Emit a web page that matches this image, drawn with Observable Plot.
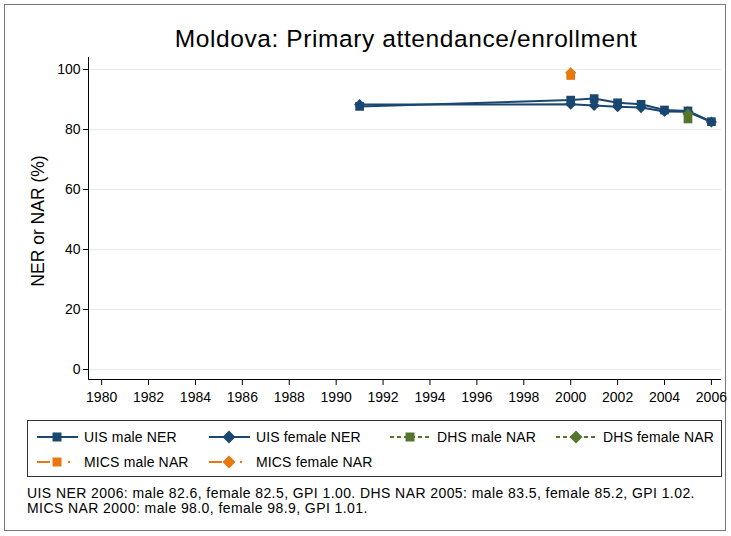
<!DOCTYPE html>
<html>
<head>
<meta charset="utf-8">
<script src="https://cdn.jsdelivr.net/npm/d3@7"></script>
<script src="https://cdn.jsdelivr.net/npm/@observablehq/plot@0.6"></script>
<style>
  html, body { margin: 0; padding: 0; background: #fff; }
  body { font-family: "Liberation Sans", Arial, sans-serif; }
  #wrap { position: relative; width: 731px; height: 536px; overflow: hidden; background: #fff; }
  #border { position: absolute; left: 4px; top: 4px; width: 722px; height: 527px; border: 1px solid #777; box-sizing: border-box; }
  #title { position: absolute; left: 88px; width: 636px; top: 25px; text-align: center; font-size: 24.5px; letter-spacing: 0.6px; color: #000; white-space: nowrap; }
  #chart { position: absolute; left: 0; top: 0; }
  #ylab { position: absolute; left: 38px; top: 221px; transform: translate(-50%, -50%) rotate(-90deg); font-size: 17.5px; white-space: nowrap; }
  #legend { position: absolute; left: 27px; top: 420px; width: 695px; height: 57px; border: 1px solid #333; box-sizing: border-box; }
  .item { position: absolute; font-size: 14px; letter-spacing: 0.15px; display: flex; align-items: center; white-space: nowrap; }
  .item svg { margin-right: 6px; }
  #caption { position: absolute; left: 27px; top: 486px; font-size: 14px; letter-spacing: 0.42px; line-height: 15px; white-space: nowrap; }
</style>
</head>
<body>
<div id="wrap">
  <div id="border"></div>
  <div id="chart"></div>
  <div id="title">Moldova: Primary attendance/enrollment</div>
  <div id="ylab">NER or NAR (%)</div>
  <div id="legend"></div>
  <div id="caption"></div>
</div>
<script>
// ---- data ----
const uisYears = [1991, 2000, 2001, 2002, 2003, 2004, 2005, 2006];
const uisMaleNER = [87.7, 89.8, 90.3, 88.9, 88.4, 86.5, 86.2, 82.6];
const uisFemaleNER = [88.3, 88.4, 88.0, 87.6, 87.3, 86.0, 85.9, 82.5];
const dhsYears = [2005];
const dhsMaleNAR = [83.5];
const dhsFemaleNAR = [85.2];
const micsYears = [2000];
const micsMaleNAR = [98.0];
const micsFemaleNAR = [98.9];
const xTicks = [1980, 1982, 1984, 1986, 1988, 1990, 1992, 1994, 1996, 1998, 2000, 2002, 2004, 2006];
const yTicks = [0, 20, 40, 60, 80, 100];
const seriesNames = ["UIS male NER", "UIS female NER", "DHS male NAR", "DHS female NAR", "MICS male NAR", "MICS female NAR"];
const captionLines = [
  "UIS NER 2006: male 82.6, female 82.5, GPI 1.00. DHS NAR 2005: male 83.5, female 85.2, GPI 1.02.",
  "MICS NAR 2000: male 98.0, female 98.9, GPI 1.01."
];

const navy = "#1a476f", green = "#55752f", orange = "#e8770e";
const toRows = (xs, ys) => xs.map((x, i) => ({x, y: ys[i]}));
const uisM = toRows(uisYears, uisMaleNER);
const uisF = toRows(uisYears, uisFemaleNER);
const dhsM = toRows(dhsYears, dhsMaleNAR);
const dhsF = toRows(dhsYears, dhsFemaleNAR);
const micsM = toRows(micsYears, micsMaleNAR);
const micsF = toRows(micsYears, micsFemaleNAR);

const xDom = [1979.44, 2006.43];
const yDom = [-3.33, 104];
const rSq = 4.9, rDi = 5.0;

const chart = Plot.plot({
  width: 731,
  height: 410,
  marginLeft: 88,
  marginRight: 10,
  marginTop: 57,
  marginBottom: 31,
  style: {fontFamily: "Liberation Sans, Arial, sans-serif", fontSize: "14px", background: "transparent"},
  x: {domain: xDom, label: null},
  y: {domain: yDom, label: null},
  marks: [
    Plot.gridY(yTicks, {stroke: "#e3ecef", strokeOpacity: 1, strokeWidth: 1.2}),
    Plot.ruleX([xDom[0]], {stroke: "#000", strokeWidth: 1}),
    Plot.ruleY([yDom[0]], {stroke: "#000", strokeWidth: 1}),
    Plot.axisY(yTicks, {tickSize: 5, tickPadding: 3, tickFormat: d => String(d), label: null, fill: "#000", stroke: "#000"}),
    Plot.axisX(xTicks, {tickSize: 6, tickPadding: 7, tickFormat: d => String(d), label: null, fill: "#000", stroke: "#000"}),
    Plot.line(uisM, {x: "x", y: "y", stroke: navy, strokeWidth: 2}),
    Plot.dot(uisM, {x: "x", y: "y", symbol: "square", r: rSq, fill: navy}),
    Plot.line(uisF, {x: "x", y: "y", stroke: navy, strokeWidth: 2}),
    Plot.dot(uisF, {x: "x", y: "y", symbol: "diamond2", r: rDi, fill: navy}),
    Plot.dot(dhsM, {x: "x", y: "y", symbol: "square", r: rSq, fill: green}),
    Plot.dot(dhsF, {x: "x", y: "y", symbol: "diamond2", r: rDi, fill: green}),
    Plot.dot(micsM, {x: "x", y: "y", symbol: "square", r: rSq, fill: orange}),
    Plot.dot(micsF, {x: "x", y: "y", symbol: "diamond2", r: rDi, fill: orange})
  ]
});
document.getElementById("chart").appendChild(chart);

// ---- legend ----
const legendSpec = [
  {name: seriesNames[0], color: navy, sym: "square", dash: null, left: 9, top: 6},
  {name: seriesNames[1], color: navy, sym: "diamond", dash: null, left: 181, top: 6},
  {name: seriesNames[2], color: green, sym: "square", dash: "4,3", left: 362, top: 6},
  {name: seriesNames[3], color: green, sym: "diamond", dash: "4,3", left: 528, top: 6},
  {name: seriesNames[4], color: orange, sym: "square", dash: "13,18,2,20", left: 9, top: 31},
  {name: seriesNames[5], color: orange, sym: "diamond", dash: "13,18,2,20", left: 181, top: 31}
];
const legend = document.getElementById("legend");
for (const s of legendSpec) {
  const div = document.createElement("div");
  div.className = "item";
  div.style.left = s.left + "px";
  div.style.top = s.top + "px";
  const mk = s.sym === "square"
    ? `<rect x="15.5" y="5.5" width="9" height="9" fill="${s.color}"/>`
    : `<path d="M20,3.5 L26.5,10 L20,16.5 L13.5,10 Z" fill="${s.color}"/>`;
  div.innerHTML = `<svg width="41" height="20"><line x1="0" y1="10" x2="41" y2="10" stroke="${s.color}" stroke-width="2" ${s.dash ? `stroke-dasharray="${s.dash}"` : ""}/>${mk}</svg><span>${s.name}</span>`;
  legend.appendChild(div);
}
document.getElementById("caption").innerHTML = captionLines.join("<br>");
</script>
</body>
</html>
